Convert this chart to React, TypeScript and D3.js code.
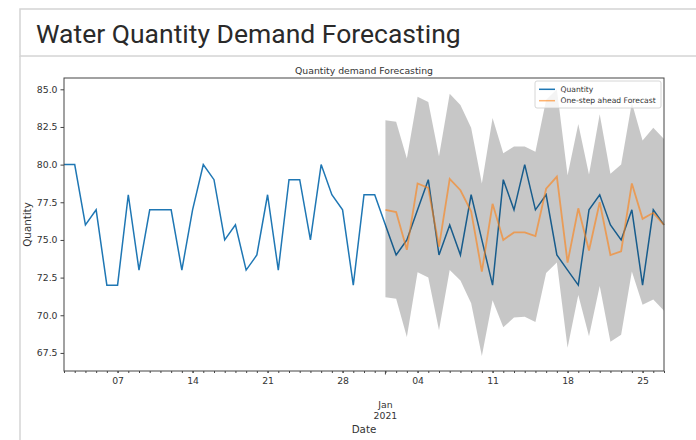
import React, { useRef, useEffect } from 'react';
import * as d3 from 'd3';

// observed daily quantity, starting 2020-12-02
const quantityStart = '2020-12-02';
const quantity = [
  80, 80, 76, 77, 72, 72, 78, 73, 77, 77,
  77, 73, 77, 80, 79, 75, 76, 73, 74, 78,
  73, 79, 79, 75, 80, 78, 77, 72, 78, 78,
  76, 74, 75, 77, 79, 74, 76, 74, 78, 75,
  72, 79, 77, 80, 77, 78, 74, 73, 72, 77,
  78, 76, 75, 77, 72, 77, 76,
];

// one-step ahead forecast and its confidence band, starting 2021-01-01
const forecastStart = '2021-01-01';
const forecast = [
  77.0, 76.85, 74.35, 78.75, 78.45, 74.55, 79.05, 78.3, 76.9, 72.9,
  77.4, 75.0, 75.5, 75.5, 75.25, 78.4, 79.2, 73.5, 77.1, 74.3,
  77.5, 74.0, 74.25, 78.75, 76.4, 76.8, 76.0,
];
const upperCi = [
  82.95, 82.85, 80.4, 84.5, 84.15, 80.55, 84.7, 83.95, 82.45, 78.75,
  83.1, 80.75, 81.2, 81.2, 80.85, 84.3, 85.0, 79.3, 82.7, 79.35,
  83.35, 79.4, 80.0, 84.1, 81.6, 82.45, 81.7,
];
const lowerCi = [
  71.2, 71.1, 68.55, 72.85, 72.5, 69.0, 73.0, 72.3, 70.8, 67.3,
  71.0, 69.2, 69.85, 69.9, 69.55, 72.8, 73.5, 67.85, 71.35, 68.6,
  71.95, 68.25, 68.7, 72.9, 70.7, 71.05, 70.3,
];

const yTicks = [67.5, 70, 72.5, 75, 77.5, 80, 82.5, 85];
const dayTicks = ['2020-12-07', '2020-12-14', '2020-12-21', '2020-12-28', '2021-01-04', '2021-01-11', '2021-01-18', '2021-01-25'];
const monthTick = '2021-01-01';
const monthLabel = ['Jan', '2021'];
const legendItems = ['Quantity', 'One-step ahead Forecast'];

const mplFont = '"DejaVu Sans", sans-serif';

export default function App() {
  const ref = useRef<SVGSVGElement>(null);

  useEffect(() => {
    if (!ref.current) return;
    const svg = d3.select(ref.current);
    svg.selectAll('*').remove();

    const parse = d3.timeParse('%Y-%m-%d');
    const qDates = quantity.map((_, i) => d3.timeDay.offset(parse(quantityStart)!, i));
    const fDates = forecast.map((_, i) => d3.timeDay.offset(parse(forecastStart)!, i));

    const left = 64, right = 664, top = 78, bottom = 371;

    const x = d3.scaleTime()
      .domain([qDates[0], qDates[qDates.length - 1]])
      .range([left, right]);
    const y = d3.scaleLinear()
      .domain([66.3, 85.75])
      .range([bottom, top]);

    // card frame
    svg.append('rect')
      .attr('x', 20).attr('y', 9).attr('width', 700).attr('height', 47)
      .attr('fill', '#fff').attr('stroke', '#d4d4d4').attr('stroke-width', 1.5);
    svg.append('line')
      .attr('x1', 20).attr('x2', 20).attr('y1', 56).attr('y2', 440)
      .attr('stroke', '#d4d4d4').attr('stroke-width', 1.5);
    svg.append('text')
      .attr('x', 36).attr('y', 43)
      .attr('font-family', 'Roboto, sans-serif').attr('font-size', 26.5)
      .attr('fill', '#2a2a2a')
      .text('Water Quantity Demand Forecasting');

    const qLine = d3.line<number>().x((_, i) => x(qDates[i])).y(d => y(d));
    const fLine = d3.line<number>().x((_, i) => x(fDates[i])).y(d => y(d));

    // observed
    svg.append('path')
      .attr('d', qLine(quantity))
      .attr('fill', 'none').attr('stroke', '#1f77b4').attr('stroke-width', 1.5);

    // confidence band
    const band = d3.area<number>()
      .x((_, i) => x(fDates[i]))
      .y0((_, i) => y(lowerCi[i]))
      .y1(d => y(d));
    svg.append('path')
      .attr('d', band(upperCi))
      .attr('fill', '#000').attr('fill-opacity', 0.22);

    // forecast
    svg.append('path')
      .attr('d', fLine(forecast))
      .attr('fill', 'none').attr('stroke', '#ff7f0e').attr('stroke-opacity', 0.6).attr('stroke-width', 1.8);

    // y axis
    const yAxis = svg.append('g')
      .attr('transform', `translate(${left},0)`)
      .call(d3.axisLeft(y).tickValues(yTicks).tickSize(3.5).tickPadding(3).tickFormat(d3.format('.1f')));
    yAxis.select('.domain').remove();
    yAxis.selectAll('line').attr('stroke', '#444');
    yAxis.selectAll('text').attr('font-family', mplFont).attr('font-size', 9.3).attr('fill', '#333');

    // x axis: daily minor ticks
    const xMinor = svg.append('g')
      .attr('transform', `translate(0,${bottom})`)
      .call(d3.axisBottom(x).ticks(d3.timeDay.every(1)).tickSize(2).tickFormat(() => ''));
    xMinor.select('.domain').remove();
    xMinor.selectAll('line').attr('stroke', '#444');

    // weekly day labels
    const xDays = svg.append('g')
      .attr('transform', `translate(0,${bottom})`)
      .call(d3.axisBottom(x).tickValues(dayTicks.map(d => parse(d)!)).tickSize(2).tickPadding(4)
        .tickFormat(d => d3.timeFormat('%d')(d as Date)));
    xDays.select('.domain').remove();
    xDays.selectAll('line').attr('stroke', '#444');
    xDays.selectAll('text').attr('font-family', mplFont).attr('font-size', 9.3).attr('fill', '#333');

    // month major tick
    const mx = x(parse(monthTick)!);
    svg.append('line')
      .attr('x1', mx).attr('x2', mx).attr('y1', bottom).attr('y2', bottom + 3.5)
      .attr('stroke', '#444');
    svg.append('g').selectAll('text')
      .data(monthLabel)
      .join('text')
      .attr('x', mx).attr('y', (_, i) => 407.5 + i * 11.6)
      .attr('text-anchor', 'middle')
      .attr('font-family', mplFont).attr('font-size', 9.3).attr('fill', '#333')
      .text(d => d);

    // spines
    svg.append('rect')
      .attr('x', left).attr('y', top).attr('width', right - left).attr('height', bottom - top)
      .attr('fill', 'none').attr('stroke', '#444').attr('stroke-width', 1);

    // titles
    svg.append('text')
      .attr('x', (left + right) / 2).attr('y', 74)
      .attr('text-anchor', 'middle')
      .attr('font-family', mplFont).attr('font-size', 9.3).attr('fill', '#333')
      .text('Quantity demand Forecasting');
    svg.append('text')
      .attr('x', (left + right) / 2).attr('y', 432.5)
      .attr('text-anchor', 'middle')
      .attr('font-family', mplFont).attr('font-size', 10.3).attr('fill', '#333')
      .text('Date');
    svg.append('text')
      .attr('transform', `translate(31,${(top + bottom) / 2}) rotate(-90)`)
      .attr('text-anchor', 'middle')
      .attr('font-family', mplFont).attr('font-size', 10.3).attr('fill', '#333')
      .text('Quantity');

    // legend
    const legend = svg.append('g');
    legend.append('rect')
      .attr('x', 535).attr('y', 81).attr('width', 126).attr('height', 27).attr('rx', 2)
      .attr('fill', '#fff').attr('fill-opacity', 0.8).attr('stroke', '#ccc').attr('stroke-width', 0.8);
    const colors = ['#1f77b4', '#ff7f0e'];
    const rows = legend.selectAll('g.item')
      .data(legendItems)
      .join('g')
      .attr('class', 'item')
      .attr('transform', (_, i) => `translate(0,${89.3 + i * 11.4})`);
    rows.append('line')
      .attr('x1', 539).attr('x2', 555)
      .attr('stroke', (_, i) => colors[i]).attr('stroke-width', 1.5)
      .attr('stroke-opacity', (_, i) => (i === 1 ? 0.6 : 1));
    rows.append('text')
      .attr('x', 560.5).attr('y', 2.7)
      .attr('font-family', mplFont).attr('font-size', 7.6).attr('fill', '#333')
      .text(d => d);
  }, []);

  return (
    <div style={{ position: 'absolute', left: 0, top: 0 }}>
      <svg ref={ref} width={696} height={440} style={{ display: 'block', background: '#fff' }} />
    </div>
  );
}
